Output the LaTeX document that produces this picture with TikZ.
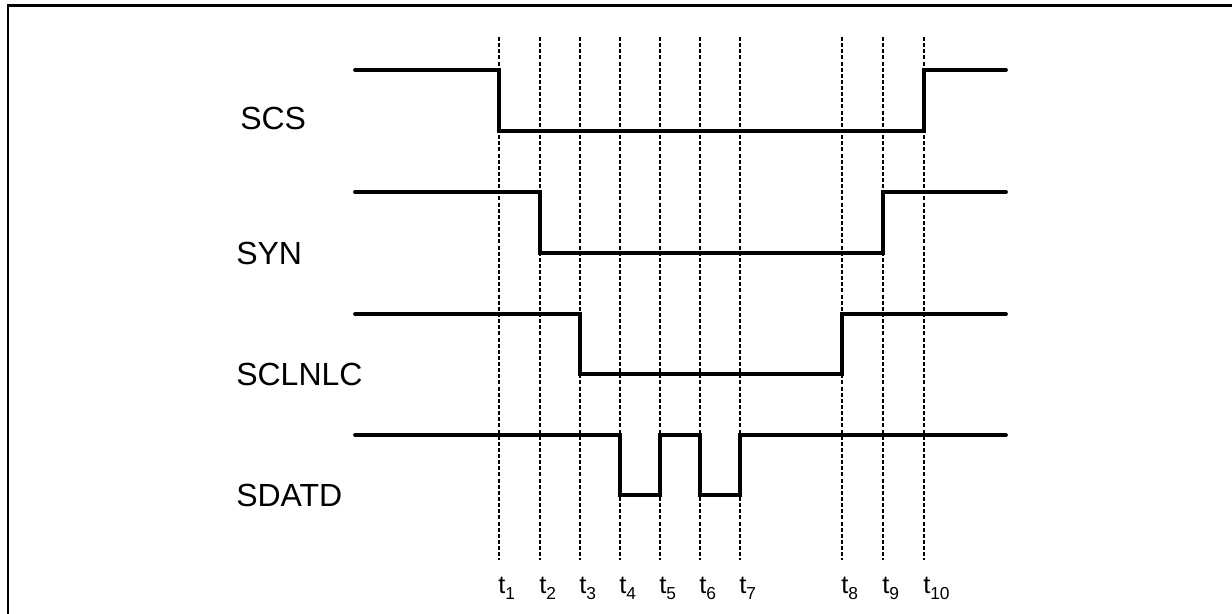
\documentclass[tikz,border=0pt]{standalone}
\usepackage{fontspec}
\setmainfont{Liberation Sans}
\usetikzlibrary{calc}

\begin{document}
\begin{tikzpicture} [x=0.75pt, y=-0.75pt]

\useasboundingbox (0,0) rectangle (1232,614);
\tikzset{sig/.style={black,line width=2.8pt,line cap=round,line join=miter},
         tline/.style={black,line width=1pt,dash pattern=on 3pt off 1.6pt},
         sname/.style={anchor=west,inner sep=0pt,font=\fontsize{24}{28}\selectfont},
         tname/.style={anchor=base west,inner sep=0pt,font=\fontsize{19}{22}\selectfont}}

% frame
\draw[black,line width=2.2pt] (8,640) -- (8,5.5) -- (1260,5.5);

% time markers
\foreach \n/\x in {1/499,2/540,3/580,4/620,5/660,6/700,7/740,8/842,9/883,10/924}
{
  \coordinate (t\n) at (\x,37);
  \draw[tline] (t\n) -- +(0,523);
  \node[tname] (lt\n) at ($(t\n)+(-1,556)$) {t\raisebox{-4.5pt}{\fontsize{13}{13}\selectfont\n}};
}

% signals
\draw[sig] (355,70) -- (499,70) -- (499,131) -- (924,131) -- (924,70) -- (1006,70);
\draw[sig] (355,192) -- (540,192) -- (540,253) -- (883,253) -- (883,192) -- (1006,192);
\draw[sig] (355,314) -- (580,314) -- (580,374) -- (842,374) -- (842,314) -- (1006,314);
\draw[sig] (355,435) -- (620,435) -- (620,495) -- (660,495) -- (660,435) -- (700,435)
           -- (700,495) -- (740,495) -- (740,435) -- (1006,435);

\node[sname] (scs) at (240,118) {SCS};
\node[sname] (syn) at (236,253) {SYN};
\node[sname] (sclnlc) at (236,374) {SCLNLC};
\node[sname] (sdatd) at (236,495) {SDATD};

\end{tikzpicture}
\end{document}
